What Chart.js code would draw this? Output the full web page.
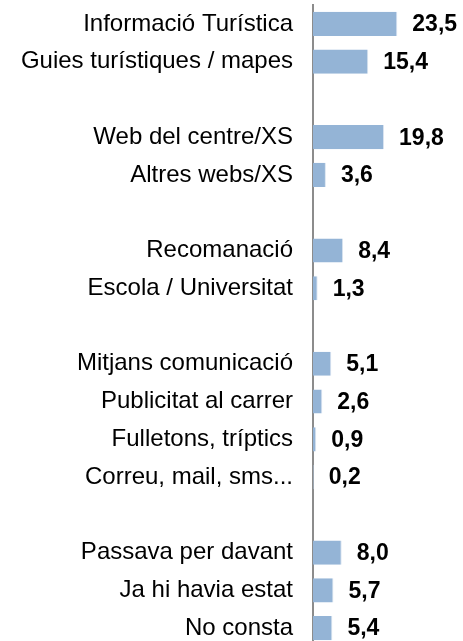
<!DOCTYPE html>
<html>
<head>
<meta charset="utf-8">
<script src="https://cdn.jsdelivr.net/npm/chart.js@4"></script>
<style>
  html, body { margin: 0; padding: 0; background: #fff; overflow: hidden; }
  #wrap { position: relative; width: 463px; height: 647px; }
</style>
</head>
<body>
<div id="wrap"><canvas id="chart"></canvas></div>
<script>
// Categories (empty strings are the gaps between groups)
const categories = [
    'Informació Turística', 'Guies turístiques / mapes', '',
    'Web del centre/XS', 'Altres webs/XS', '',
    'Recomanació', 'Escola / Universitat', '',
    'Mitjans comunicació', 'Publicitat al carrer', 'Fulletons, tríptics', 'Correu, mail, sms...', '',
    'Passava per davant', 'Ja hi havia estat', 'No consta'
];
const values = [
    23.5, 15.4, null,
    19.8, 3.6, null,
    8.4, 1.3, null,
    5.1, 2.6, 0.9, 0.2, null,
    8.0, 5.7, 5.4
];
const xMax = 41.8;

// Draw values like "23,5" to the right of each bar
const valueLabels = {
    id: 'valueLabels',
    afterDatasetsDraw(chart) {
        const ctx = chart.ctx;
        const meta = chart.getDatasetMeta(0);
        ctx.save();
        ctx.font = 'bold 23px "Liberation Sans", Arial, sans-serif';
        ctx.fillStyle = '#000';
        ctx.textAlign = 'left';
        ctx.textBaseline = 'middle';
        meta.data.forEach((bar, i) => {
            if (values[i] === null) return;
            ctx.fillText(values[i].toFixed(1).replace('.', ','), bar.x + 15, bar.y + 1);
        });
        ctx.restore();
    }
};

new Chart(document.getElementById('chart'), {
    type: 'bar',
    data: {
        labels: categories,
        datasets: [{
            data: values,
            backgroundColor: '#94b4d6',
            borderColor: '#dbe5f1',
            borderWidth: { top: 0, bottom: 0, left: 0, right: 1 },
            categoryPercentage: 1,
            barPercentage: 0.64
        }]
    },
    options: {
        indexAxis: 'y',
        responsive: true,
        maintainAspectRatio: false,
        animation: false,
        layout: { padding: { top: 5, right: 0, bottom: 0, left: 0 } },
        plugins: {
            legend: { display: false },
            tooltip: { enabled: false }
        },
        scales: {
            x: {
                display: false,
                min: 0,
                max: xMax
            },
            y: {
                afterFit(scale) {
                    scale.width = 313;
                    scale.paddingTop = 0;
                    scale.paddingBottom = 0;
                },
                grid: { display: false, drawTicks: false },
                border: { display: true, color: '#8c8c8c', width: 2 },
                ticks: {
                    padding: 20,
                    color: '#000',
                    font: { family: '"Liberation Sans", Arial, sans-serif', size: 24 }
                }
            }
        }
    },
    plugins: [valueLabels]
});
</script>
</body>
</html>
